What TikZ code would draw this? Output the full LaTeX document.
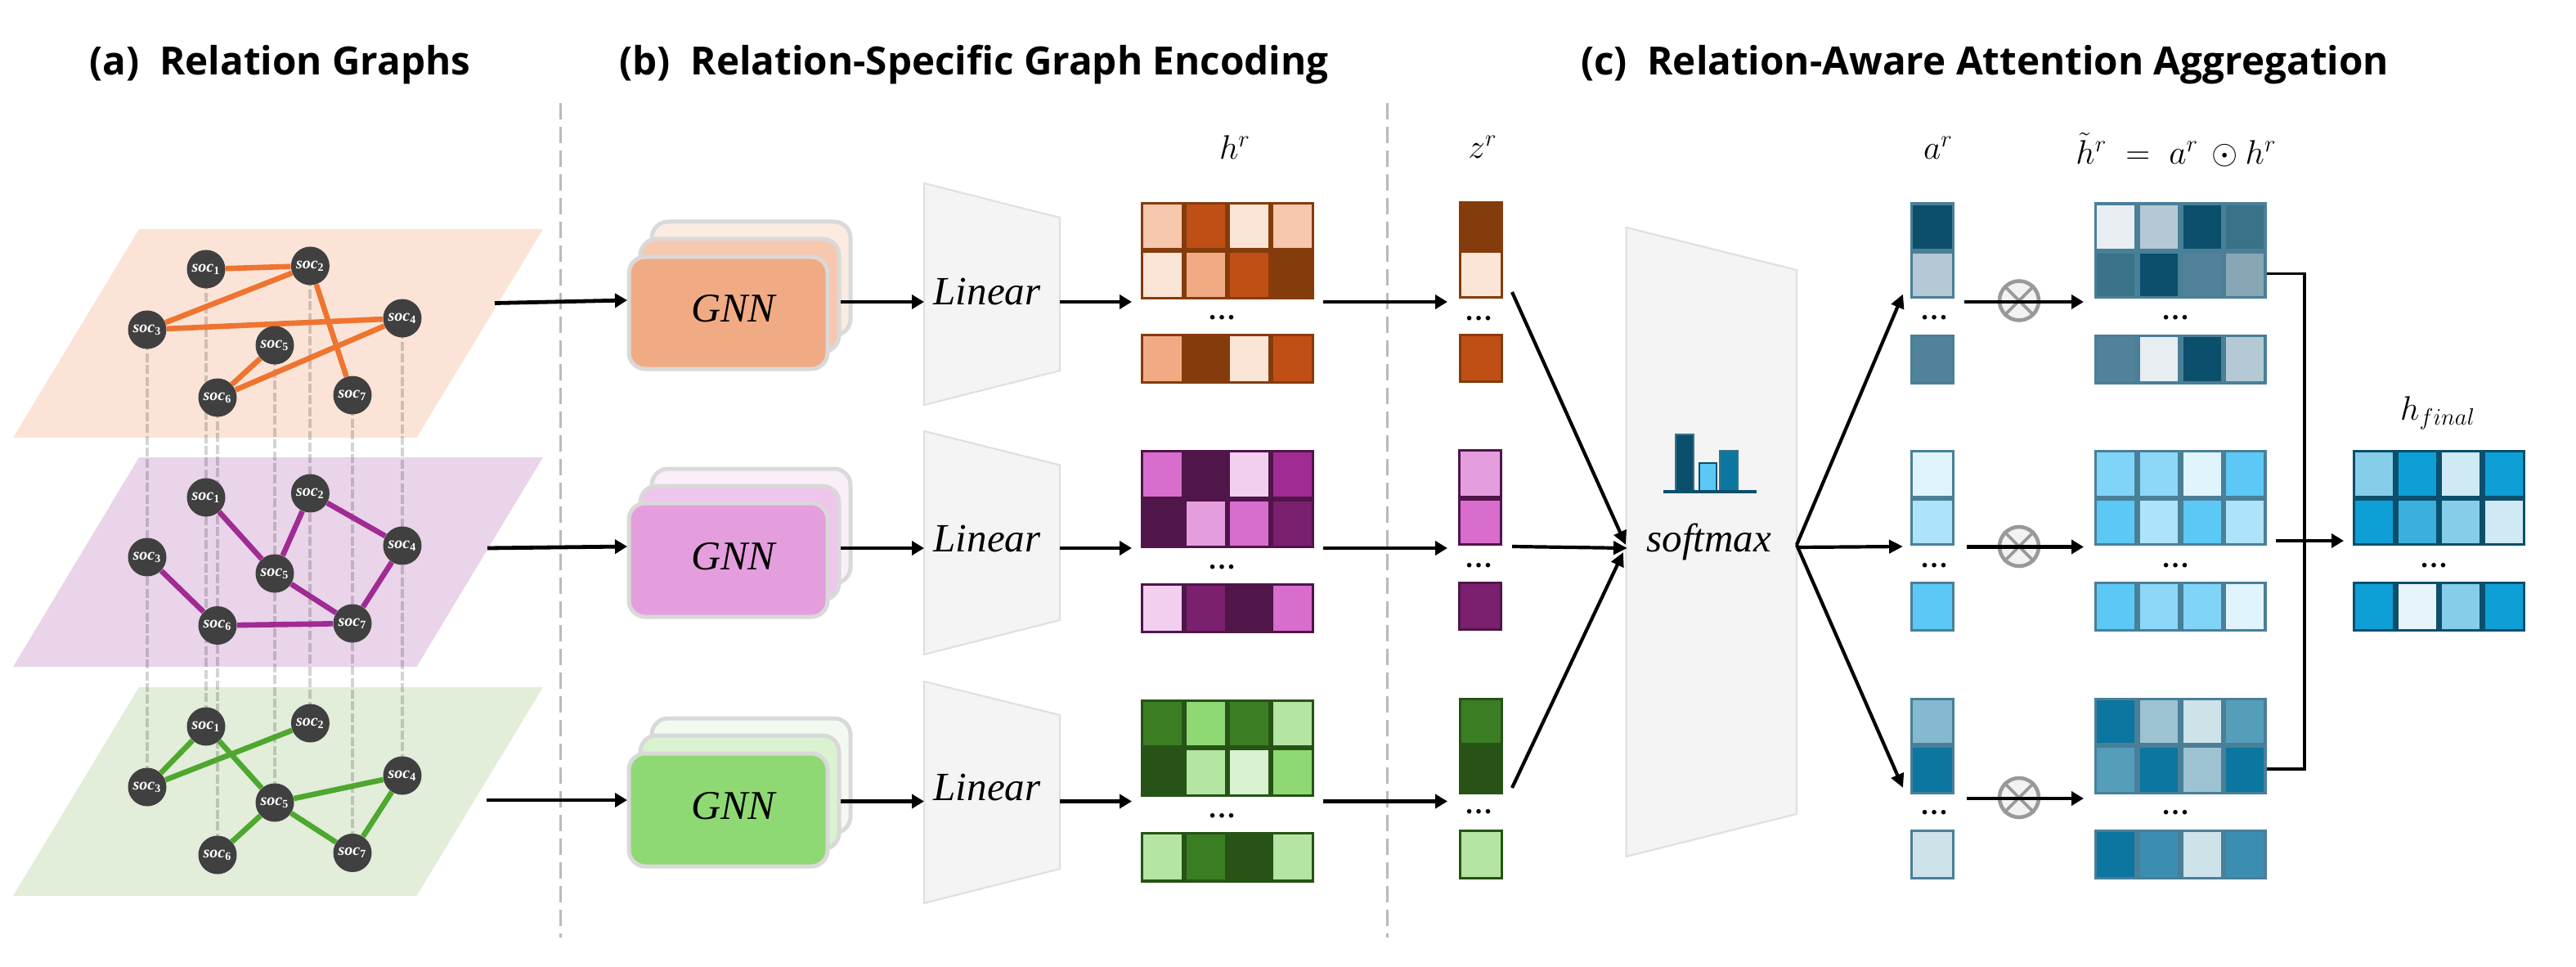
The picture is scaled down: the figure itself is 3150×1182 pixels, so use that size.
\documentclass[tikz,border=0pt]{standalone}
\usepackage{fontspec}
\setmainfont{Liberation Serif}
\newfontfamily\titlefont{Open Sans}[BoldFont={Open Sans Bold}]
\usetikzlibrary{arrows.meta,calc}
\pgfdeclarelayer{planes}\pgfdeclarelayer{links}
\pgfsetlayers{planes,links,main}
\definecolor{oa}{HTML}{FBE5D6}\definecolor{ob}{HTML}{F7C7AE}\definecolor{oc}{HTML}{F1AB84}\definecolor{od}{HTML}{C04F15}\definecolor{oe}{HTML}{843C0C}
\definecolor{pa}{HTML}{F2CEEF}\definecolor{pb}{HTML}{E59EDD}\definecolor{pc}{HTML}{D86DCD}\definecolor{pd}{HTML}{A02B93}\definecolor{pe}{HTML}{7B1F6F}\definecolor{pf}{HTML}{501549}
\definecolor{ga}{HTML}{D9F2D0}\definecolor{gb}{HTML}{B4E5A2}\definecolor{gc}{HTML}{8ED973}\definecolor{gd}{HTML}{3B7D23}\definecolor{ge}{HTML}{275317}
\definecolor{ta}{HTML}{E8EEF1}\definecolor{tb}{HTML}{B4C9D3}\definecolor{tc}{HTML}{87A7B6}\definecolor{td}{HTML}{528299}\definecolor{te}{HTML}{3A7287}\definecolor{tf}{HTML}{0B4F6C}\definecolor{tg}{HTML}{4A7F98}
\definecolor{la}{HTML}{E0F4FD}\definecolor{lb}{HTML}{AEE4F9}\definecolor{lc}{HTML}{8DD8F8}\definecolor{ld}{HTML}{80D4F8}\definecolor{le}{HTML}{5CC8F5}
\definecolor{ma}{HTML}{CEE2EA}\definecolor{mb}{HTML}{9DC3D3}\definecolor{mc}{HTML}{85B9CF}\definecolor{md}{HTML}{549EBA}\definecolor{me}{HTML}{3B8EB1}\definecolor{mf}{HTML}{0B76A0}
\definecolor{fa}{HTML}{E7F4FA}\definecolor{fb}{HTML}{CFE9F5}\definecolor{fc}{HTML}{85CDE8}\definecolor{fd}{HTML}{3CB0DC}\definecolor{fe}{HTML}{0E9FD6}
\definecolor{planeo}{HTML}{FBE4D7}\definecolor{planep}{HTML}{E9D4E9}\definecolor{planeg}{HTML}{E2EDDA}
\definecolor{edgeo}{HTML}{EE7430}\definecolor{edgeg}{HTML}{4EA72E}
\tikzset{
  socnode/.style={circle,fill=black!75,text=white,inner sep=0pt,minimum size=23.5pt,font=\fontsize{10}{10}\selectfont\bfseries\itshape},
  edgeline/.style={line width=3.3pt},
  riser/.style={line width=2pt,black,opacity=.17,dash pattern=on 5.5pt off 1.7pt},
  flow/.style={line width=2.4pt,-{Triangle[length=7.5pt,width=8.5pt]}},
  flowthin/.style={line width=2.1pt,-{Triangle[length=8.5pt,width=8pt]}},
  divider/.style={line width=1.5pt,black!27,dash pattern=on 10pt off 4.5pt},
  card/.style={rounded corners=10pt,draw=black!15,line width=2.5pt},
  gnnnode/.style={font=\fontsize{25}{25}\selectfont\itshape,inner sep=0pt},
  linnode/.style={font=\fontsize{24.5}{25}\selectfont\itshape,inner sep=0pt},
  funnel/.style={fill=black!4.5,draw=black!12,line width=1.1pt},
  dotsnode/.style={font=\fontsize{17}{17}\selectfont\bfseries,inner sep=0pt},
  titlenode/.style={font=\titlefont\bfseries\fontsize{23.8}{26}\selectfont,inner sep=0pt},
  mathnode/.style={font=\fontsize{21}{22}\selectfont,inner sep=0pt},
  otimesnode/.style={circle,draw=black!40,fill=black!5,line width=2.3pt,minimum size=24pt,inner sep=0pt},
}
% #1 x0, #2 x1, #3 y0, #4 y1, #5 border, #6 n, #7 colours
\newcommand{\cellsrow}[7]{%
  \foreach \c [count=\i from 0] in {#7}{%
    \path[draw=#5,line width=1.7pt,fill=\c]
      ({#1+1.7+\i*((#2)-(#1))/#6},{#3+1.7}) rectangle ({#1-1.7+(\i+1)*((#2)-(#1))/#6},{#4-1.7});
  }}
\newcommand{\plane}[3]{\fill[#1] (170,#2) -- (664,#2) -- (509.5,#3) -- (16,#3) -- cycle;}
\newcommand{\trap}[6]{\draw[funnel] (#1,#3) -- (#2,#4) -- (#2,#5) -- (#1,#6) -- cycle;}
\begin{document}
\begin{tikzpicture}[x=0.5pt,y=-0.5pt]
\useasboundingbox (0,0) rectangle (3150,1182);
% titles
\node[titlenode] (ta) at (342.5,79) {(a)~~Relation Graphs};
\node[titlenode] (tb) at (1191,79) {(b)~~Relation-Specific Graph Encoding};
\node[titlenode] (tc) at (2427,79) {(c)~~Relation-Aware Attention Aggregation};
% dividers
\coordinate (d1a) at (685,126); \coordinate (d1b) at (685,1146);
\coordinate (d2a) at (1696.5,126); \coordinate (d2b) at (1696.5,1146);
\draw[divider] (d1a) -- (d1b);
\draw[divider] (d2a) -- (d2b);
% planes
\begin{pgfonlayer}{planes}
\plane{planeo}{280}{535}
\plane{planep}{559}{815}
\plane{planeg}{840}{1095}
\end{pgfonlayer}
% soc nodes
\foreach \n/\x/\ya/\yb/\yc in {1/252/329/608/888,2/379.4/325/603/884,3/180/403/681/962,4/492/389/667/948,5/336/422/701/981,6/266/486/764.5/1045,7/431/483/762/1042.5}{
  \node[socnode] (t\n) at (\x,\ya) {soc$_{\mathbf{\n}}$};
  \node[socnode] (m\n) at (\x,\yb) {soc$_{\mathbf{\n}}$};
  \node[socnode] (b\n) at (\x,\yc) {soc$_{\mathbf{\n}}$};
  \begin{pgfonlayer}{links}
  \draw[riser] (t\n.center) -- (m\n.center) -- (b\n.center);
  \end{pgfonlayer}
}
\begin{pgfonlayer}{links}
\foreach \a/\b in {1/2,2/3,3/4,2/7,4/6,5/6}{\draw[edgeline,edgeo] (t\a) -- (t\b);}
\foreach \a/\b in {1/5,2/5,2/4,3/6,5/7,6/7,4/7}{\draw[edgeline,pd] (m\a) -- (m\b);}
\foreach \a/\b in {1/3,2/3,1/5,5/4,5/6,5/7,4/7}{\draw[edgeline,edgeg] (b\a) -- (b\b);}
\end{pgfonlayer}
% GNN stacks
\foreach \r/\ya/\yb/\yc/\yd/\ye/\yf/\ca/\cb/\cc/\ty in {1/271/410/292/430/314/451/oa!75!white/ob/oc/377,2/573/713/594/733/615/754/pa!35!white/pb!60!white/pb/680,3/878/1018/899/1038/921/1059/ga!35!white/ga/gc/985}{
  \draw[card,fill=\ca] (797,\ya) rectangle (1040,\yb);
  \draw[card,fill=\cb] (783,\yc) rectangle (1026,\yd);
  \draw[card,fill=\cc] (769,\ye) rectangle (1012,\yf);
  \node[gnnnode] (gnn\r) at (896.5,\ty) {GNN};
}
% Linear
\trap{1130}{1296}{224}{266}{453}{495}
\trap{1130}{1296}{527}{568.5}{758}{800}
\trap{1130}{1296}{833}{874}{1062}{1104}
\node[linnode] (lin1) at (1207,357) {Linear};
\node[linnode] (lin2) at (1207,659) {Linear};
\node[linnode] (lin3) at (1207,963) {Linear};
% h^r matrices
\cellsrow{1395}{1607}{247}{306.5}{oe}{4}{ob,od,oa,ob}
\cellsrow{1395}{1607}{306}{366}{oe}{4}{oa,oc,od,oe}
\cellsrow{1395}{1607}{408}{469}{oe}{4}{oc,oe,oa,od}
\cellsrow{1395}{1607}{550}{610.5}{pf}{4}{pc,pf,pa,pd}
\cellsrow{1395}{1607}{610}{670}{pf}{4}{pf,pb,pc,pe}
\cellsrow{1395}{1607}{713}{774}{pf}{4}{pa,pe,pf,pc}
\cellsrow{1395}{1607}{855}{914.5}{ge}{4}{gd,gc,gd,gb}
\cellsrow{1395}{1607}{914}{974}{ge}{4}{ge,gb,ga,gc}
\cellsrow{1395}{1607}{1017}{1078.5}{ge}{4}{gb,gd,ge,gb}
% z columns
\cellsrow{1784}{1838}{246}{306.5}{oe}{1}{oe}
\cellsrow{1784}{1838}{306}{365}{oe}{1}{oa}
\cellsrow{1784}{1838}{408}{468}{oe}{1}{od}
\cellsrow{1783}{1837}{549}{609}{pf}{1}{pb}
\cellsrow{1783}{1837}{608.5}{667}{pf}{1}{pc}
\cellsrow{1783}{1837}{711}{771}{pf}{1}{pe}
\cellsrow{1784}{1838}{853}{911}{ge}{1}{gd}
\cellsrow{1784}{1838}{910.5}{971}{ge}{1}{ge}
\cellsrow{1784}{1838}{1014}{1075}{ge}{1}{gb}
% softmax
\trap{1988.5}{2197}{278}{330}{995}{1047}
\node[linnode] (soft) at (2090,662) {softmax};
\draw[fill=tf,draw=te,line width=.6pt] (2049,531) rectangle (2071,600);
\draw[fill=le,draw=tf,line width=1pt] (2078,566) rectangle (2099,600);
\draw[fill=mf,draw=te,line width=.6pt] (2103,551) rectangle (2125,600);
\draw[tf,line width=1.6pt] (2034,601) -- (2148,601);
% a columns
\cellsrow{2336}{2390}{247.5}{307.5}{tg}{1}{tf}
\cellsrow{2336}{2390}{307}{365.5}{tg}{1}{tb}
\cellsrow{2336}{2390}{408.5}{469.5}{tg}{1}{td}
\cellsrow{2336}{2390}{549.5}{609}{tg}{1}{la}
\cellsrow{2336}{2390}{608.5}{667}{tg}{1}{lb}
\cellsrow{2336}{2390}{711}{772}{tg}{1}{le}
\cellsrow{2336}{2390}{853}{911}{tg}{1}{mc}
\cellsrow{2336}{2390}{910.5}{971}{tg}{1}{mf}
\cellsrow{2336}{2390}{1014}{1075}{tg}{1}{ma}
% weighted matrices
\cellsrow{2561}{2771.5}{247.5}{307.5}{tg}{4}{ta,tb,tf,te}
\cellsrow{2561}{2771.5}{307}{365.5}{tg}{4}{te,tf,td,tc}
\cellsrow{2561}{2771.5}{408.5}{469.5}{tg}{4}{td,ta,tf,tb}
\cellsrow{2561}{2771.5}{549.5}{609}{tg}{4}{ld,lc,la,le}
\cellsrow{2561}{2771.5}{608.5}{667}{tg}{4}{le,lb,le,lb}
\cellsrow{2561}{2771.5}{711}{772}{tg}{4}{le,lc,ld,la}
\cellsrow{2561}{2771.5}{853}{911}{tg}{4}{mf,mb,ma,md}
\cellsrow{2561}{2771.5}{910.5}{971}{tg}{4}{md,mf,mb,mf}
\cellsrow{2561}{2771.5}{1014}{1075}{tg}{4}{mf,me,ma,me}
% final matrix
\cellsrow{2877}{3088}{549.5}{609}{tf}{4}{fc,fe,fb,fe}
\cellsrow{2877}{3088}{608.5}{667}{tf}{4}{fe,fd,fc,fb}
\cellsrow{2877}{3088}{711}{772}{tf}{4}{fe,fa,fc,fe}
% dots
\foreach \nm/\x/\y in {a/1494/388,b/1494/693,c/1494/997,d/1808/389,e/1808/691,f/1808/992,g/2365/388,h/2365/691,i/2365/993,j/2660/388,k/2660/691,l/2660/993,m/2976/691}{
  \node[dotsnode] (dots\nm) at (\x,\y) {\ldots};
}
% formula labels
\node[mathnode] (lh) at (1510,180) {$h^r$};
\node[mathnode] (lz) at (1813,180) {$z^r$};
\node[mathnode] (la) at (2370,181) {$a^r$};
\node[mathnode] (lt) at (2661,183) {$\tilde{h}^r\;=\;a^r\,\odot h^r$};
\node[mathnode] (lf) at (2981,505) {$h_{final}$};
% otimes
\foreach \r/\y in {1/367.5,2/668,3/975}{
  \node[otimesnode] (ot\r) at (2469,\y) {};
  \draw[black!40,line width=1.8pt] (ot\r.45) -- (ot\r.225) (ot\r.135) -- (ot\r.315);
}
% connector ends
\coordinate (p1) at (605,370.5); \coordinate (p2) at (596,670); \coordinate (p3) at (595,978);
\coordinate (g1i) at (767,367); \coordinate (g2i) at (767,668); \coordinate (g3i) at (767,978);
\coordinate (g1o) at (1028,369); \coordinate (g2o) at (1028,670); \coordinate (g3o) at (1028,979.5);
\coordinate (l1i) at (1130,369); \coordinate (l2i) at (1130,670); \coordinate (l3i) at (1130,979.5);
\coordinate (l1o) at (1296,369); \coordinate (l2o) at (1296,670); \coordinate (l3o) at (1296,979.5);
\coordinate (h1i) at (1384,369); \coordinate (h2i) at (1384,670); \coordinate (h3i) at (1384,979.5);
\coordinate (h1o) at (1618,369); \coordinate (h2o) at (1618,670); \coordinate (h3o) at (1618,979.5);
\coordinate (z1i) at (1770,369); \coordinate (z2i) at (1770,670); \coordinate (z3i) at (1770,979.5);
\coordinate (z1o) at (1849,357); \coordinate (z2o) at (1849,668); \coordinate (z3o) at (1849,963);
\coordinate (s1i) at (1988,666); \coordinate (s2i) at (1990,670); \coordinate (s3i) at (1985,675);
\coordinate (so) at (2197,666); \coordinate (so2) at (2197,669);
\coordinate (a1i) at (2327,359.5); \coordinate (a2i) at (2327,668); \coordinate (a3i) at (2327,963);
\coordinate (o1a) at (2402,369); \coordinate (o2a) at (2405,668.5); \coordinate (o3a) at (2405,976);
\coordinate (o1b) at (2548,369); \coordinate (o2b) at (2548,668.5); \coordinate (o3b) at (2548,976);
\coordinate (m1o) at (2771.5,334.5); \coordinate (m3o) at (2771.5,940); \coordinate (mc) at (2818,661);
\coordinate (mi) at (2783,661); \coordinate (mf) at (2866,661);
% connectors
\foreach \r in {1,2,3}{
  \draw[flow] (p\r) -- (g\r i);
  \draw[flow] (g\r o) -- (l\r i);
  \draw[flow] (l\r o) -- (h\r i);
  \draw[flow] (h\r o) -- (z\r i);
  \draw[flow] (o\r a) -- (o\r b);
  \draw[flowthin] (z\r o) -- (s\r i);
}
\draw[flowthin] (so) -- (a1i);
\draw[flowthin] (so2) -- (a2i);
\draw[flowthin] (so) -- (a3i);
\draw[line width=1.9pt] (m1o) -- (m1o -| mc) -- (m3o -| mc) -- (m3o);
\draw[flow] (mi) -- (mf);
\end{tikzpicture}
\end{document}
